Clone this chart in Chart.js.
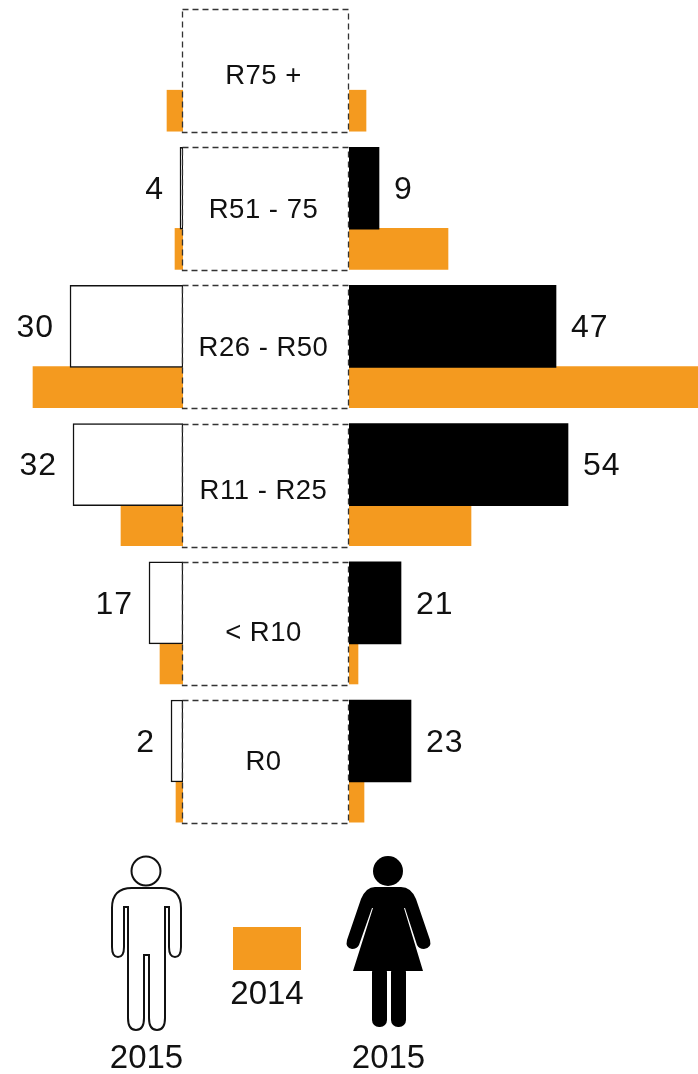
<!DOCTYPE html>
<html>
<head>
<meta charset="utf-8">
<title>Chart</title>
<script src="https://cdn.jsdelivr.net/npm/chart.js@4/dist/chart.umd.min.js"></script>
<style>
    html, body { margin: 0; padding: 0; background: #fff; }
    #page { position: relative; width: 698px; height: 1074px; overflow: hidden; font-family: "Liberation Sans", sans-serif; color: #111; }
    canvas { position: absolute; top: 0; }
    #leftChart { left: 0; }
    #rightChart { left: 349px; }
    #overlay { position: absolute; left: 0; top: 0; }
    #overlay text { font-family: "Liberation Sans", sans-serif; fill: #111; text-anchor: middle; }
</style>
</head>
<body>
<div id="page">
    <canvas id="leftChart" width="183" height="830"></canvas>
    <canvas id="rightChart" width="349" height="830"></canvas>
    <svg id="overlay" width="698" height="1074"></svg>
</div>
<script>
const categories = ['R75 +', 'R51 - 75', 'R26 - R50', 'R11 - R25', '< R10', 'R0'];

// numbers printed next to the bars
const men2015Labels = [null, 4, 30, 32, 17, 2];
const women2015Labels = [null, 9, 47, 54, 21, 23];

// bar lengths as they are drawn in the picture, they do not follow the printed numbers exactly
const men2015 = [null, 0.75, 28.25, 27.5, 8.5, 3];
const women2015 = [null, 7.5, 51.75, 54.75, 13, 15.5];
const men2014 = [4, 2, 37.5, 15.5, 5.75, 1.75];
const women2014 = [4.25, 24.75, 87.25, 30.5, 2.25, 3.75];

const legendYear = '2014';
const iconYear = '2015';

const orange = '#f49a1f';

function toPoints(values) {
    return values.map((v, i) => ({ x: v, y: i }));
}

// writes the printed number at the end of each 2015 bar
const barNumbers = {
    id: 'barNumbers',
    afterDatasetsDraw(chart, args, opts) {
        const ctx = chart.ctx;
        const bars = chart.getDatasetMeta(0).data;
        ctx.save();
        ctx.font = '32px "Liberation Sans"';
        ctx.letterSpacing = '1px';
        ctx.fillStyle = '#111';
        ctx.textBaseline = 'middle';
        ctx.textAlign = opts.side === 'left' ? 'right' : 'left';
        bars.forEach((bar, i) => {
            if (opts.labels[i] === null) return;
            const x = opts.side === 'left' ? bar.x - 16 : bar.x + 15;
            ctx.fillText(opts.labels[i], x, bar.y + 2);
        });
        ctx.restore();
    }
};

function makeSide(id, data2015, data2014, labels, side, style2015) {
    return new Chart(document.getElementById(id), {
        type: 'bar',
        data: {
            datasets: [
                Object.assign({
                    data: toPoints(data2015),
                    yAxisID: 'y',
                    grouped: false,
                    barThickness: 82
                }, style2015),
                {
                    data: toPoints(data2014),
                    yAxisID: 'y2',
                    grouped: false,
                    barThickness: 41,
                    backgroundColor: orange,
                    borderWidth: 0
                }
            ]
        },
        options: {
            indexAxis: 'y',
            responsive: false,
            animation: false,
            events: [],
            layout: { padding: 0 },
            plugins: {
                legend: { display: false },
                tooltip: { enabled: false },
                barNumbers: { labels: labels, side: side }
            },
            scales: {
                x: {
                    type: 'linear',
                    display: false,
                    min: 0,
                    max: side === 'left' ? 45.75 : 87.25,
                    reverse: side === 'left'
                },
                // about 138px per row, the 2014 axis is moved so its bars sit just under the 2015 ones
                y: { type: 'linear', display: false, offset: false, reverse: true, min: -0.362, max: 5.644 },
                y2: { type: 'linear', display: false, offset: false, reverse: true, min: -0.801, max: 5.205 }
            }
        },
        plugins: [barNumbers]
    });
}

const leftChart = makeSide('leftChart', men2015, men2014, men2015Labels, 'left', {
    backgroundColor: '#fff',
    borderColor: '#111',
    borderWidth: 1.5,
    borderSkipped: false
});
const rightChart = makeSide('rightChart', women2015, women2014, women2015Labels, 'right', {
    backgroundColor: '#000',
    borderWidth: 0
});

// dashed boxes with the income bands, legend and icons
const svg = document.getElementById('overlay');
const labelOffsets = [66, 62, 62, 66, 70, 61];

function addSvg(tag, attrs, text) {
    const el = document.createElementNS('http://www.w3.org/2000/svg', tag);
    Object.keys(attrs).forEach((k) => el.setAttribute(k, attrs[k]));
    if (text) el.textContent = text;
    svg.appendChild(el);
    return el;
}

categories.forEach((cat, i) => {
    const top = Math.round(leftChart.scales.y.getPixelForValue(i)) - 41;
    addSvg('rect', {
        x: 182.5, y: top + 0.5, width: 166, height: 123,
        fill: 'none', stroke: '#333', 'stroke-width': 1.3, 'stroke-dasharray': '6 4'
    });
    addSvg('text', { x: 263.5, y: top + labelOffsets[i] + 9, 'font-size': 27.5, 'letter-spacing': 0.5 }, cat);
});

addSvg('rect', { x: 233, y: 927, width: 68, height: 43, fill: orange });
addSvg('text', { x: 267, y: 1004, 'font-size': 33 }, legendYear);
addSvg('text', { x: 146.5, y: 1068, 'font-size': 33 }, iconYear);
addSvg('text', { x: 388.5, y: 1068, 'font-size': 33 }, iconYear);

// man
addSvg('circle', { cx: 146, cy: 871, r: 14.5, fill: '#fff', stroke: '#111', 'stroke-width': 2 });
addSvg('path', {
    d: 'M132 888 H161 Q181 888 181 908 V947 Q181 957 175 957 Q169 957 169 947 V907 H165 V1018 ' +
       'Q165 1030 157 1030 Q149 1030 149 1018 V955 H144 V1018 Q144 1030 136 1030 Q128 1030 128 1018 ' +
       'V907 H124 V947 Q124 957 118 957 Q112 957 112 947 V908 Q112 888 132 888 Z',
    fill: '#fff', stroke: '#111', 'stroke-width': 2
});

// woman
addSvg('circle', { cx: 388, cy: 871, r: 15, fill: '#000' });
addSvg('path', {
    d: 'M375 887 H401 Q411 887 416 899 L430 940 Q432 948 424 949 Q419 949 417 945 L405 908 L404 908 ' +
       'L423 971 H353 L373 908 L372 908 L359 945 Q357 949 352 949 Q345 948 347 940 L361 899 Q366 887 375 887 Z',
    fill: '#000'
});
addSvg('rect', { x: 372, y: 965, width: 15, height: 62, rx: 7, fill: '#000' });
addSvg('rect', { x: 391, y: 965, width: 15, height: 62, rx: 7, fill: '#000' });
</script>
</body>
</html>
